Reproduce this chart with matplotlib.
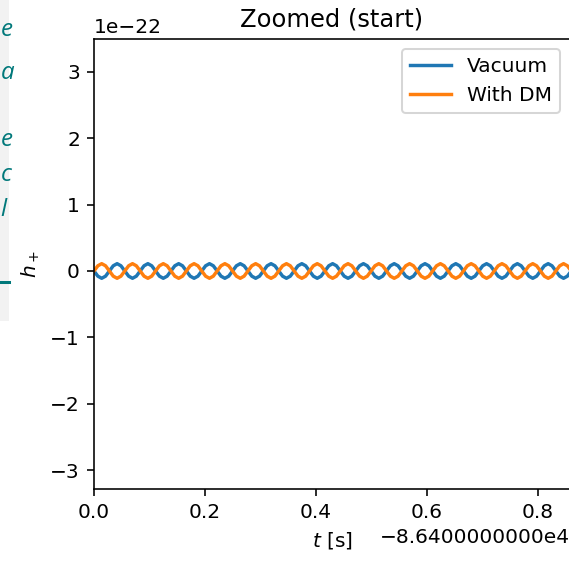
import matplotlib
matplotlib.use("Agg")
import matplotlib.pyplot as plt
import numpy as np
from matplotlib.patches import Rectangle
from matplotlib.ticker import ScalarFormatter

# values
t_offset = -86400.0          # offset shown under the x axis
offset_label = "\u22128.6400000000e4"
period = 0.0555              # s, one cycle of the wave
n_cycles = 16
# one cycle sampled every 1/8 period, in units of h+
vacuum_cycle = [0.0, -0.78e-23, -1.1e-23, -0.78e-23, 0.0, 0.78e-23, 1.1e-23, 0.78e-23]
dm_cycle = [0.0, 0.78e-23, 1.1e-23, 0.78e-23, 0.0, -0.78e-23, -1.1e-23, -0.78e-23]

labels = ["Vacuum", "With DM"]
xlim_rel = (0.0, 0.858)
ylim = (-3.28e-22, 3.49e-22)
xticks_rel = [0.0, 0.2, 0.4, 0.6, 0.8]
yticks = [-3e-22, -2e-22, -1e-22, 0, 1e-22, 2e-22, 3e-22]

h_vac = np.tile(vacuum_cycle, n_cycles)
h_dm = np.tile(dm_cycle, n_cycles)
t = t_offset + np.arange(len(h_vac)) * period / len(vacuum_cycle)


class LongOffsetFormatter(ScalarFormatter):
    # old matplotlib printed the offset with 10 digits
    def get_offset(self):
        return offset_label


fig = plt.figure(figsize=(569 / 145, 563 / 145), dpi=145)

# grey strip of the page next to the chart
fig.patches.append(Rectangle((0, 1 - 321 / 563), 9 / 569, 321 / 563,
                             transform=fig.transFigure, facecolor="#f2f2f2",
                             edgecolor="none", zorder=0))
for ch, ypx in zip(["e", "a", "e", "c", "l"], [30, 73, 140, 175, 210]):
    fig.text(0.5 / 569, 1 - ypx / 563, ch, color="#00787a", style="italic",
             fontsize=12, ha="left", va="center", family="Open Sans")
fig.lines.append(plt.Line2D([0, 9 / 569], [1 - 282 / 563] * 2, transform=fig.transFigure,
                            color="#00787a", lw=1.5))

ax = fig.add_axes([94 / 569, 1 - 489 / 563, 476 / 569, 450 / 563])
ax.plot(t, h_vac, label=labels[0], lw=1.7)
ax.plot(t, h_dm, label=labels[1], lw=1.7)

ax.set_xlim(t_offset + xlim_rel[0], t_offset + xlim_rel[1])
ax.set_ylim(*ylim)
fmt = LongOffsetFormatter(useOffset=t_offset)
ax.xaxis.set_major_formatter(fmt)
ax.set_xticks([t_offset + v for v in xticks_rel])
ax.set_yticks(yticks)
ax.set_xlabel("$t$ [s]")
ax.set_ylabel("$h_+$")
ax.set_title("Zoomed (start)")
ax.legend(loc="upper right")

fig.savefig("out.png", dpi=145)
